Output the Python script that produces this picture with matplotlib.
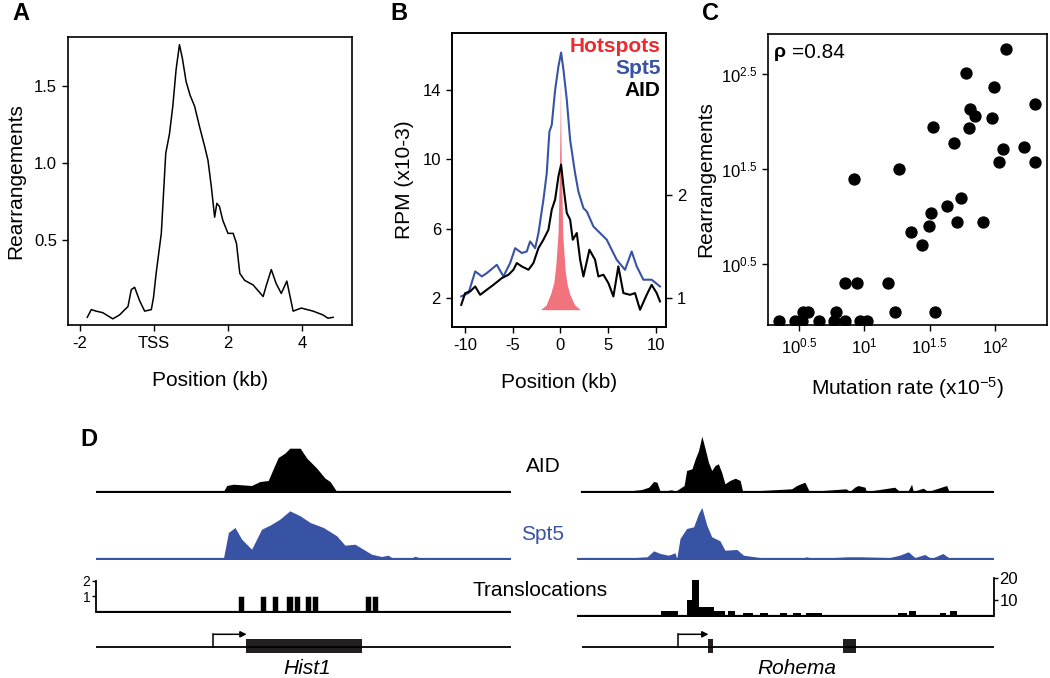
import numpy as np
import matplotlib.pyplot as plt

plt.rcParams['font.family'] = ['Liberation Sans', 'DejaVu Sans']
plt.rcParams['axes.unicode_minus'] = False
plt.rcParams['mathtext.fontset'] = 'custom'
plt.rcParams['mathtext.rm'] = 'Liberation Sans'
plt.rcParams['mathtext.it'] = 'Liberation Sans:italic'
plt.rcParams['mathtext.bf'] = 'Liberation Sans:bold'

W, H = 1050, 678
BLUE = '#3953a4'
RED = '#ec2a30'
PINK = '#f06470'

# ---- panel A: rearrangements around TSS
a_pos = [-1.80, -1.69, -1.56, -1.38, -1.11, -0.93, -0.70, -0.61, -0.52, -0.39, -0.25, -0.07,
         -0.01, 0.06, 0.20, 0.32, 0.42, 0.51, 0.60, 0.69, 0.77, 0.87, 0.98, 1.10, 1.23, 1.37,
         1.46, 1.55, 1.64, 1.70, 1.77, 1.86, 2.00, 2.14, 2.23, 2.32, 2.45, 2.68, 2.95, 3.04,
         3.17, 3.30, 3.44, 3.59, 3.76, 3.98, 4.30, 4.57, 4.70, 4.84]
a_val = [0.0, 0.05, 0.04, 0.03, -0.01, 0.015, 0.07, 0.18, 0.195, 0.11, 0.04, 0.05,
         0.13, 0.285, 0.545, 1.065, 1.19, 1.37, 1.61, 1.77, 1.68, 1.53, 1.44, 1.37, 1.24, 1.11,
         1.02, 0.85, 0.65, 0.74, 0.72, 0.63, 0.545, 0.545, 0.48, 0.285, 0.24, 0.21, 0.135, 0.21,
         0.31, 0.22, 0.155, 0.235, 0.04, 0.06, 0.04, 0.015, -0.006, 0.0]

# ---- panel B
spt5_pos = [-10.43, -9.66, -8.96, -8.26, -7.74, -6.69, -5.99, -5.29, -4.76, -4.06, -3.54, -3.19,
            -2.66, -2.31, -1.79, -1.44, -1.16, -0.91, -0.56, -0.21, 0.07, 0.32, 0.67, 1.02, 1.54,
            1.89, 2.42, 2.77, 3.47, 4.17, 4.87, 5.39, 5.92, 6.79, 7.49, 8.02, 8.72, 9.59, 10.47]
spt5_val = [2.1, 2.29, 3.54, 3.25, 3.44, 3.92, 3.25, 4.02, 4.88, 4.6, 4.69, 5.27,
            4.88, 5.75, 7.67, 9.2, 11.6, 12.0, 14.0, 15.37, 16.17, 15.17, 13.44, 11.13, 9.21,
            8.15, 7.19, 7.0, 6.13, 5.75, 5.37, 4.79, 4.21, 3.63, 4.69, 3.83, 3.06, 3.06, 2.67]
aid_pos = [-10.43, -10.01, -9.49, -8.96, -8.44, -7.74, -7.04, -6.16, -5.46, -4.94, -4.59, -4.06,
           -3.36, -2.84, -2.31, -1.79, -1.26, -0.91, -0.56, -0.21, 0.07, 0.32, 0.67, 1.02, 1.30,
           1.72, 2.07, 2.42, 3.05, 3.64, 3.99, 4.52, 5.04, 5.57, 6.09, 6.62, 7.32, 7.84, 8.37,
           9.07, 9.59, 10.12, 10.47]
aid_val = [0.935, 1.049, 1.065, 1.113, 1.032, 1.081, 1.129, 1.194, 1.227, 1.275, 1.34, 1.307,
           1.275, 1.34, 1.485, 1.566, 1.663, 1.858, 1.955, 2.18, 2.294, 2.084, 1.825, 1.761, 1.566,
           1.631, 1.372, 1.21, 1.469, 1.372, 1.21, 1.227, 1.146, 1.016, 1.307, 1.049, 1.032, 1.049, 0.887,
           1.032, 1.129, 1.049, 0.968]
hot_pos = [-2.1, -1.5, -1.0, -0.7, -0.5, -0.25, -0.1, -0.03, 0.0, 0.03, 0.1, 0.25, 0.5, 0.7, 1.0, 1.5, 2.1]
hot_val = [1.33, 1.6, 2.3, 2.9, 3.8, 5.75, 9.6, 12.5, 14.6, 12.5, 9.4, 5.6, 3.6, 2.8, 2.2, 1.6, 1.33]

# ---- panel C (log10 values)
mut_log = [0.348, 0.467, 0.518, 0.531, 0.569, 0.650, 0.767, 0.779, 0.853, 0.848, 0.942, 0.962,
           1.020, 0.917, 1.183, 1.233, 1.267, 1.355, 1.439, 1.495, 1.513, 1.528, 1.541, 1.632,
           1.685, 1.706, 1.741, 1.779, 1.805, 1.812, 1.850, 1.906, 1.977, 1.997, 2.028, 2.061,
           2.086, 2.223, 2.307, 2.307]
rea_log = [-0.095, -0.095, -0.095, -0.004, -0.004, -0.095, -0.095, -0.004, -0.095, 0.30, 0.30, -0.095,
           -0.095, 1.393, 0.30, -0.004, 1.501, 0.843, 0.696, 0.896, 1.036, 1.939, -0.004, 1.113,
           1.771, 0.948, 1.200, 2.506, 1.929, 2.128, 2.062, 0.948, 2.041, 2.366, 1.571, 1.708,
           2.758, 1.736, 2.184, 1.571]

# ---- panel D (relative position 0-100, track heights in px)
h_aid_x = [30.7, 31.5, 33.1, 37.5, 39.5, 41.5, 42.6, 43.9, 45.5, 46.7, 49.2, 50.8, 53.2, 55.2, 56.4, 58.0]
h_aid_y = [0, 6, 7.3, 6, 10, 11, 21.7, 34, 38.3, 43.3, 43.3, 33.3, 23.3, 13.3, 10, 0]
h_spt_x = [30.7, 31.9, 33.5, 35.1, 37.5, 39.9, 41.9, 44.3, 46.7, 49.2, 51.6, 54.8, 58.0, 60.0,
           62.4, 64.4, 66.4, 68.8, 70.4, 71.6, 75.7, 76.9, 78.5]
h_spt_y = [0, 26, 31, 19.3, 9.3, 29.3, 33.3, 39.3, 47.7, 42.7, 36, 31, 22.7, 13.3,
           14.3, 9.3, 4.3, 2, 3.3, 0, 0, 2.3, 0]
h_tl_start = [34.1, 39.4, 42.3, 45.9, 47.6, 50.4, 52.0, 64.8, 66.5]
h_tl_count = [1, 1, 1, 1, 1, 1, 1, 1, 1]
h_exons = [(36.1, 64.2)]
h_tss = 28.3

r_aid_x = [11.3, 14.5, 16.2, 17.4, 18.2, 19.0, 21.8, 22.6, 24.8, 25.4, 26.7, 27.5, 28.3, 29.1, 29.9,
           30.7, 31.5, 32.3, 33.1, 33.9, 34.7, 35.9, 37.2, 38.4, 39.0, 50.9, 52.1, 54.1, 55.2,
           64.1, 65.0, 66.2, 67.0, 68.7, 69.0, 75.9, 77.1, 79.2, 80.0, 80.4, 82.8, 84.0, 87.2, 88.5, 89.1]
r_aid_y = [0.5, 2, 4.3, 10, 9.3, 0, 1.7, 0, 6, 21, 22.7, 32.7, 41, 55.3, 42.7,
           29.3, 21, 26, 27.7, 19.3, 7.7, 11, 13.3, 11, 0, 2.7, 6, 9.3, 0,
           2.7, 0, 4.3, 6, 4.3, 0, 4.3, 0, 1, 7.3, 0, 3.3, 0, 4.3, 6, 0]
r_spt_x = [12.9, 15.8, 17.4, 19.0, 21.0, 22.6, 23.0, 23.8, 25.4, 27.1, 28.3, 29.1, 30.3, 31.5, 33.5,
           34.7, 37.6, 39.2, 43.2, 52.9, 54.5, 56.1, 64.6, 67.4, 74.7, 77.1, 79.2, 80.8, 83.2,
           84.8, 87.6, 89.3]
r_spt_y = [1, 1.7, 7.7, 5, 3.3, 5.7, 0, 20, 30, 31.7, 45, 51, 33.3, 21.7, 17.7,
           8.3, 9, 3.3, 1, 0, 1.7, 0, 1.7, 1.7, 1, 3.3, 6.7, 1, 4,
           0, 5, 0]
r_tl_start = [19.1, 25.4, 26.7, 28.5, 32.1, 35.5, 39.2, 43.2, 48.1, 51.3, 54.4, 76.7, 79.4, 86.8, 89.3]
r_tl_width = [4.1, 1.3, 1.8, 3.6, 2.6, 1.7, 2.4, 2.0, 1.6, 1.8, 3.8, 2.1, 1.6, 1.6, 1.6]
r_tl_count = [5, 10, 19, 7, 5, 5, 4, 4, 4, 4, 4, 4, 5, 4, 5]
r_exons = [(30.5, 31.7), (63.4, 66.4)]
r_tss = 23.4


def px_axes(fig, x0, y0, x1, y1):
    return fig.add_axes([x0 / W, 1 - y1 / H, (x1 - x0) / W, (y1 - y0) / H])


def style(ax):
    for s in ax.spines.values():
        s.set_linewidth(1.2)
    ax.tick_params(direction='out', length=4, width=1, labelsize=12, pad=4)


fig = plt.figure(figsize=(W / 100, H / 100), dpi=100)

# A
ax = px_axes(fig, 68, 37, 352, 325)
ax.plot(a_pos, a_val, color='black', lw=1.1)
ax.set_xlim(-2.32, 5.35)
ax.set_ylim(-0.05, 1.82)
ax.set_xticks([-2, 0, 2, 4], ['-2', 'TSS', '2', '4'])
ax.set_yticks([0.5, 1.0, 1.5])
ax.set_xlabel('Position (kb)', fontsize=15, labelpad=14)
ax.set_ylabel('Rearrangements', fontsize=15, labelpad=6)
style(ax)
fig.text(12 / W, 1 - 14 / H, 'A', fontsize=17, fontweight='bold', va='center')

# B
ax = px_axes(fig, 452, 33, 666, 327)
ax2 = ax.twinx()
ax.fill_between(hot_pos, 1.33, hot_val, color=PINK, lw=0, alpha=0.9)
ax.plot(spt5_pos, spt5_val, color=BLUE, lw=1.5)
ax2.plot(aid_pos, aid_val, color='black', lw=1.5)
ax.set_xlim(-11.4, 11.1)
ax.set_ylim(0.33, 17.3)
ax2.set_ylim(0.72, 3.57)
ax.set_xticks([-10, -5, 0, 5, 10])
ax.set_yticks([2, 6, 10, 14])
ax2.set_yticks([1, 2])
ax.set_xlabel('Position (kb)', fontsize=15, labelpad=14)
ax.set_ylabel('RPM (x10-3)', fontsize=15, labelpad=6)
style(ax)
style(ax2)
for i, (lab, col) in enumerate([('Hotspots', RED), ('Spt5', BLUE), ('AID', 'black')]):
    ax.text(0.975, 0.953 - i * 0.075, lab, transform=ax.transAxes, ha='right', va='center',
            fontsize=15, fontweight='bold', color=col)
fig.text(390 / W, 1 - 14 / H, 'B', fontsize=17, fontweight='bold', va='center')

# C
ax = px_axes(fig, 768, 34, 1047, 325)
ax.scatter(10 ** np.array(mut_log), 10 ** np.array(rea_log), s=62, color='black', zorder=3)
ax.set_xscale('log')
ax.set_yscale('log')
ax.set_xlim(10 ** 0.26, 10 ** 2.40)
ax.set_ylim(10 ** -0.14, 10 ** 2.92)
ax.set_xticks([10 ** 0.5, 10, 10 ** 1.5, 100], ['$10^{0.5}$', '$10^{1}$', '$10^{1.5}$', '$10^{2}$'])
ax.set_yticks([10 ** 0.5, 10 ** 1.5, 10 ** 2.5], ['$10^{0.5}$', '$10^{1.5}$', '$10^{2.5}$'])
ax.minorticks_off()
ax.set_xlabel('Mutation rate (x10$^{-5}$)', fontsize=15, labelpad=14)
ax.set_ylabel('Rearrangements', fontsize=15, labelpad=4)
style(ax)
ax.text(0.02, 0.938, 'ρ', transform=ax.transAxes, fontsize=14, fontweight='bold', va='center')
ax.text(0.085, 0.938, '=0.84', transform=ax.transAxes, fontsize=15, va='center')
fig.text(702 / W, 1 - 14 / H, 'C', fontsize=17, fontweight='bold', va='center')

# D
fig.text(80 / W, 1 - 440 / H, 'D', fontsize=17, fontweight='bold', va='center')


def track(x0, x1, y0, y1, xlo=0):
    t = px_axes(fig, x0, y0, x1, y1)
    t.set_xlim(xlo, 100)
    for s in t.spines.values():
        s.set_visible(False)
    t.set_xticks([])
    t.set_yticks([])
    t.patch.set_alpha(0)
    return t


regions = [
    (96, 511, 0, h_aid_x, h_aid_y, h_spt_x, h_spt_y, h_tl_start, [1.45] * len(h_tl_start), h_tl_count,
     h_exons, h_tss),
    (577, 994, -1.2, r_aid_x, r_aid_y, r_spt_x, r_spt_y, r_tl_start, r_tl_width, r_tl_count,
     r_exons, r_tss),
]
for k, (x0, x1, xlo, ax_x, ax_y, sx, sy, tls, tlw, tlc, exons, tss) in enumerate(regions):
    t = track(x0, x1, 430, 493, xlo)
    t.set_ylim(-1.5, 61.5)
    t.fill_between(ax_x, 0, ax_y, color='black', lw=0)
    t.axhline(0, xmin=(0 - xlo) / (100 - xlo), color='black', lw=1.6)

    t = track(x0, x1, 497, 560, xlo)
    t.set_ylim(-1.5, 61.5)
    t.fill_between(sx, 0, sy, color=BLUE, lw=0)
    t.axhline(0, color=BLUE, lw=1.6)

    if k == 0:
        t = track(x0, x1, 576, 613, xlo)
        t.set_ylim(-0.06, 2.3)
        t.bar(tls, tlc, width=tlw, align='edge', color='black', edgecolor='white', lw=0.4)
        t.axhline(0, color='black', lw=1.6)
        t.spines['left'].set_visible(True)
        t.spines['left'].set_linewidth(1.3)
        t.spines['left'].set_bounds(0, 2)
        t.set_yticks([1, 2])
        t.tick_params(axis='y', direction='out', length=3, width=1, labelsize=10, pad=1)
    else:
        t = track(x0, x1, 573, 617, xlo)
        t.set_ylim(2.4, 22.4)
        t.bar(tls, tlc, width=tlw, align='edge', color='black', lw=0)
        t.axhline(2.7, color='black', lw=1.6)
        t.spines['right'].set_visible(True)
        t.spines['right'].set_linewidth(1.3)
        t.spines['right'].set_bounds(2.7, 20)
        t.yaxis.tick_right()
        t.set_yticks([10, 20])
        t.tick_params(axis='y', direction='out', length=3, width=1, labelsize=12, pad=1)

    t = track(x0 if k == 0 else 582, x1, 630, 656, 0)
    t.set_ylim(0, 26)
    t.axhline(9.3, color='black', lw=1.3)
    for e0, e1 in exons:
        t.fill_between([e0, e1], 2.7, 17, color='#231f20', lw=0)
    t.plot([tss, tss], [9.3, 21.7], color='black', lw=1.1)
    t.annotate('', xy=(exons[0][0] + 0.2, 21.7), xytext=(tss, 21.7),
               arrowprops=dict(arrowstyle='-|>', color='black', lw=1.1, mutation_scale=9,
                               shrinkA=0, shrinkB=0))

fig.text(543 / W, 1 - 466 / H, 'AID', fontsize=15, ha='center', va='center')
fig.text(543 / W, 1 - 534 / H, 'Spt5', fontsize=15, ha='center', va='center', color=BLUE)
fig.text(540 / W, 1 - 590 / H, 'Translocations', fontsize=15, ha='center', va='center')
fig.text(307 / W, 1 - 669 / H, 'Hist1', fontsize=15, ha='center', va='center', style='italic')
fig.text(797 / W, 1 - 669 / H, 'Rohema', fontsize=15, ha='center', va='center', style='italic')

fig.savefig('out.png', dpi=100)
